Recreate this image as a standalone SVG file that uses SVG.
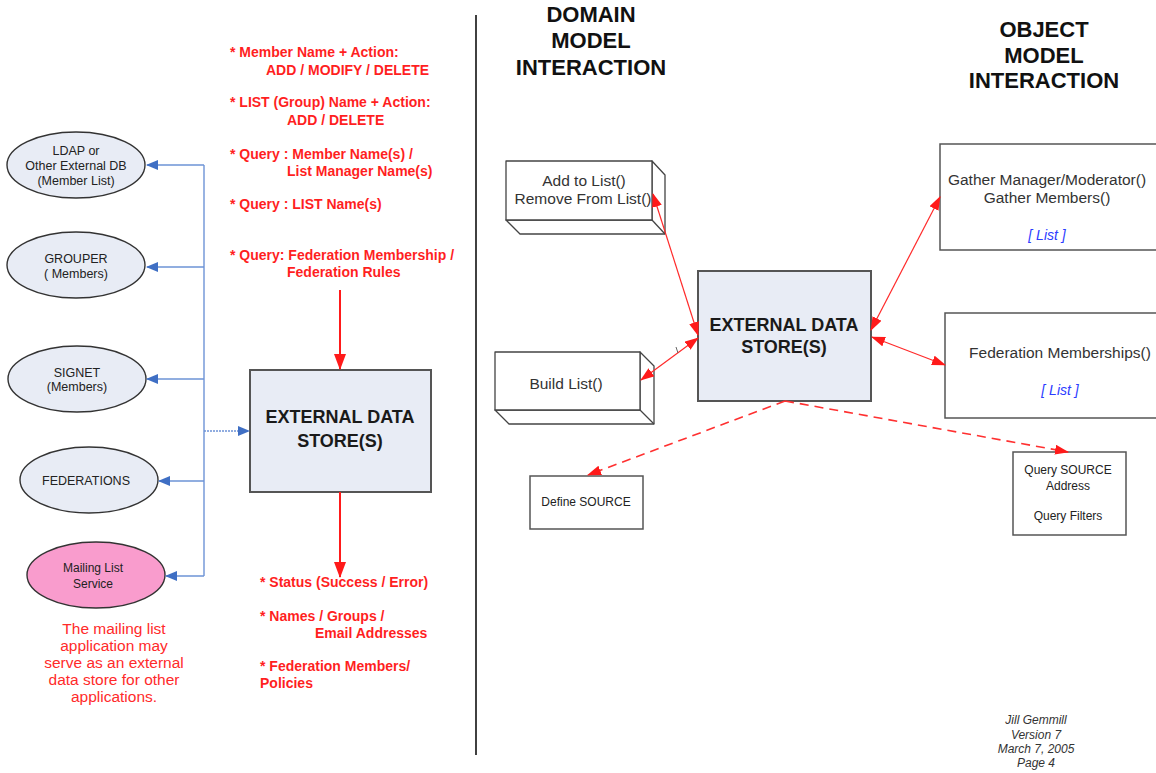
<svg xmlns="http://www.w3.org/2000/svg" width="1156" height="773" viewBox="0 0 1156 773">
  <style>
    .ell { fill: #e8ecf5; stroke: #333; stroke-width: 1.4; }
    .ell-pink { fill: #f99ccd; stroke: #333; stroke-width: 1.4; }
    .store { fill: #e8ecf5; stroke: #555; stroke-width: 2; }
    .box { fill: #fff; stroke: #555; stroke-width: 1.5; }
    .box3d { fill: #fff; stroke: #444; stroke-width: 1.3; stroke-linejoin: round; }
    .t { font-family: "Liberation Sans", Arial, sans-serif; fill: #222; }
    .node { font-size: 12.5px; text-anchor: middle; }
    .store-t { font-size: 18px; font-weight: bold; text-anchor: middle; fill: #1a1a1a; }
    .red-b { font-family: "Liberation Sans", Arial, sans-serif; font-size: 14px; font-weight: bold; fill: #ff1f1f; }
    .red-n { font-family: "Liberation Sans", Arial, sans-serif; font-size: 15.5px; fill: #ff2a2a; text-anchor: middle; }
    .head { font-family: "Liberation Sans", Arial, sans-serif; font-size: 22px; font-weight: bold; fill: #111; text-anchor: middle; }
    .op { font-size: 15.5px; text-anchor: middle; fill: #333; }
    .list { font-size: 14px; font-style: italic; text-anchor: middle; fill: #2b3cff; }
    .small { font-size: 12px; text-anchor: middle; fill: #222; }
    .foot { font-size: 12px; font-style: italic; text-anchor: middle; fill: #333; }
    .blue { stroke: #6d93d6; stroke-width: 1.4; fill: none; }
    .red-thick { stroke: #ff1a1a; stroke-width: 2; fill: none; }
    .red-thin { stroke: #ff2a2a; stroke-width: 1.2; fill: none; }
    .red-dash { stroke: #ff3030; stroke-width: 1.6; fill: none; stroke-dasharray: 9 6; }
  </style>
  <defs>
    <marker id="blueHead" markerUnits="userSpaceOnUse" markerWidth="12" markerHeight="10" refX="11" refY="5" orient="auto">
      <path d="M0,0 L12,5 L0,10 Z" fill="#3f6fc4"/>
    </marker>
    <marker id="redBig" markerUnits="userSpaceOnUse" markerWidth="16" markerHeight="12" refX="15" refY="6" orient="auto">
      <path d="M0,0 L16,6 L0,12 Z" fill="#ff1a1a"/>
    </marker>
    <marker id="redEnd" markerUnits="userSpaceOnUse" markerWidth="14" markerHeight="10" refX="13" refY="5" orient="auto">
      <path d="M0,0 L14,5 L0,10 Z" fill="#ff1a1a"/>
    </marker>
    <marker id="redStart" markerUnits="userSpaceOnUse" markerWidth="14" markerHeight="10" refX="1" refY="5" orient="auto">
      <path d="M14,0 L0,5 L14,10 Z" fill="#ff1a1a"/>
    </marker>
  </defs>

  <rect x="0" y="0" width="1156" height="773" fill="#fff"/>

  <!-- divider -->
  <line x1="476" y1="15" x2="476" y2="755" stroke="#111" stroke-width="1.6"/>

  <!-- headings -->
  <g id="heading-domain">
    <text class="head" x="591" y="22">DOMAIN</text>
    <text class="head" x="591" y="48">MODEL</text>
    <text class="head" x="591" y="75">INTERACTION</text>
  </g>
  <g id="heading-object">
    <text class="head" x="1044" y="37">OBJECT</text>
    <text class="head" x="1044" y="63">MODEL</text>
    <text class="head" x="1044" y="88">INTERACTION</text>
  </g>

  <!-- left column: sources -->
  <g id="node-ldap">
    <ellipse class="ell" cx="76" cy="165" rx="69" ry="33"/>
    <text class="t node" x="76" y="155">LDAP or</text>
    <text class="t node" x="76" y="170">Other External DB</text>
    <text class="t node" x="76" y="185">(Member List)</text>
  </g>
  <g id="node-grouper">
    <ellipse class="ell" cx="76" cy="265" rx="69" ry="33"/>
    <text class="t node" x="76" y="263">GROUPER</text>
    <text class="t node" x="76" y="278">( Members)</text>
  </g>
  <g id="node-signet">
    <ellipse class="ell" cx="77" cy="379" rx="69" ry="33"/>
    <text class="t node" x="77" y="377">SIGNET</text>
    <text class="t node" x="77" y="391">(Members)</text>
  </g>
  <g id="node-federations">
    <ellipse class="ell" cx="89" cy="480" rx="69" ry="33"/>
    <text class="t node" x="86" y="485">FEDERATIONS</text>
  </g>
  <g id="node-mailing">
    <ellipse class="ell-pink" cx="96" cy="575" rx="69" ry="33"/>
    <text class="t node" x="93" y="572" style="font-size:12px">Mailing List</text>
    <text class="t node" x="93" y="588" style="font-size:12px">Service</text>
  </g>
  <g id="note-mailing">
    <text class="red-n" x="114" y="634">The mailing list</text>
    <text class="red-n" x="114" y="651">application may</text>
    <text class="red-n" x="114" y="668">serve as an external</text>
    <text class="red-n" x="114" y="685">data store for other</text>
    <text class="red-n" x="114" y="702">applications.</text>
  </g>

  <!-- request list -->
  <g id="requests">
    <text class="red-b" x="230" y="57">* Member Name + Action:</text>
    <text class="red-b" x="266" y="75">ADD / MODIFY / DELETE</text>
    <text class="red-b" x="230" y="107">* LIST (Group) Name + Action:</text>
    <text class="red-b" x="287" y="125">ADD / DELETE</text>
    <text class="red-b" x="230" y="159">* Query : Member Name(s) /</text>
    <text class="red-b" x="287" y="176">List Manager Name(s)</text>
    <text class="red-b" x="230" y="209">* Query : LIST Name(s)</text>
    <text class="red-b" x="230" y="260">* Query: Federation Membership /</text>
    <text class="red-b" x="287" y="277">Federation Rules</text>
  </g>

  <g id="store-left">
    <rect class="store" x="250" y="370" width="181" height="122"/>
    <text class="t store-t" x="340" y="423">EXTERNAL DATA</text>
    <text class="t store-t" x="340" y="447">STORE(S)</text>
  </g>

  <!-- result list -->
  <g id="results">
    <text class="red-b" x="260" y="587">* Status (Success / Error)</text>
    <text class="red-b" x="260" y="621">* Names / Groups /</text>
    <text class="red-b" x="315" y="638">Email Addresses</text>
    <text class="red-b" x="260" y="671">* Federation Members/</text>
    <text class="red-b" x="260" y="688">Policies</text>
  </g>

  <!-- domain model -->
  <g id="node-add-remove">
    <path class="box3d" d="M652,161 L665,175 L665,234 L520,234 L506,220 L652,220 Z"/>
    <line class="box3d" x1="652" y1="220" x2="665" y2="234"/>
    <rect class="box3d" x="506" y="161" width="146" height="59"/>
    <text class="t op" x="584" y="186">Add to List()</text>
    <text class="t op" x="583" y="204">Remove From List()</text>
  </g>
  <g id="node-build">
    <path class="box3d" d="M640,352 L654,366 L654,424 L509,424 L495,410 L640,410 Z"/>
    <line class="box3d" x1="640" y1="410" x2="654" y2="424"/>
    <rect class="box3d" x="495" y="352" width="145" height="58"/>
    <text class="t op" x="566" y="389">Build List()</text>
  </g>

  <g id="store-right">
    <rect class="store" x="698" y="271" width="173" height="130"/>
    <text class="t store-t" x="784" y="331">EXTERNAL DATA</text>
    <text class="t store-t" x="784" y="353">STORE(S)</text>
  </g>

  <g id="node-define-source">
    <rect class="box" x="530" y="476" width="113" height="53"/>
    <text class="t small" x="586" y="506">Define SOURCE</text>
  </g>

  <!-- object model -->
  <g id="node-gather">
    <rect class="box" x="940" y="144" width="220" height="106"/>
    <text class="t op" x="1047" y="185">Gather Manager/Moderator()</text>
    <text class="t op" x="1047" y="203">Gather Members()</text>
    <text class="t list" x="1047" y="240">[ List ]</text>
  </g>
  <g id="node-federation-memberships">
    <rect class="box" x="945" y="313" width="215" height="105"/>
    <text class="t op" x="1060" y="358">Federation Memberships()</text>
    <text class="t list" x="1060" y="395">[ List ]</text>
  </g>
  <g id="node-query-source">
    <rect class="box" x="1013" y="452" width="113" height="83"/>
    <text class="t small" x="1068" y="474">Query SOURCE</text>
    <text class="t small" x="1068" y="490">Address</text>
    <text class="t small" x="1068" y="520">Query Filters</text>
  </g>

  <!-- connectors, drawn over the nodes so arrowheads stay visible -->
  <g id="connectors">
    <!-- blue bus to the sources -->
    <line class="blue" x1="204" y1="165" x2="204" y2="576"/>
    <line class="blue" x1="204" y1="165" x2="147" y2="165" marker-end="url(#blueHead)"/>
    <line class="blue" x1="204" y1="267" x2="147" y2="267" marker-end="url(#blueHead)"/>
    <line class="blue" x1="204" y1="379" x2="147" y2="379" marker-end="url(#blueHead)"/>
    <line class="blue" x1="204" y1="481" x2="159" y2="481" marker-end="url(#blueHead)"/>
    <line class="blue" x1="204" y1="576" x2="166" y2="576" marker-end="url(#blueHead)"/>
    <line class="blue" x1="204" y1="431" x2="249" y2="431" stroke-dasharray="2 1" marker-end="url(#blueHead)"/>

    <!-- requests in / results out -->
    <line class="red-thick" x1="340" y1="290" x2="340" y2="369" marker-end="url(#redBig)"/>
    <line class="red-thick" x1="340" y1="492" x2="340" y2="577" marker-end="url(#redBig)"/>

    <!-- domain model links -->
    <line class="red-thin" x1="653" y1="194" x2="698" y2="335" marker-start="url(#redStart)" marker-end="url(#redEnd)"/>
    <line class="red-thin" x1="641" y1="380" x2="698" y2="338" marker-start="url(#redStart)" marker-end="url(#redEnd)"/>
    <line x1="676" y1="347" x2="678" y2="353" stroke="#666" stroke-width="1"/>

    <!-- object model links -->
    <line class="red-thin" x1="871" y1="330" x2="940" y2="197" marker-start="url(#redStart)" marker-end="url(#redEnd)"/>
    <line class="red-thin" x1="872" y1="337" x2="945" y2="365" marker-start="url(#redStart)" marker-end="url(#redEnd)"/>

    <!-- source lookups -->
    <line class="red-dash" x1="785" y1="401" x2="588" y2="475" marker-end="url(#redEnd)"/>
    <line class="red-dash" x1="785" y1="401" x2="1068" y2="452" marker-end="url(#redEnd)"/>
  </g>

  <g id="footer">
    <text class="t foot" x="1036" y="724">Jill Gemmill</text>
    <text class="t foot" x="1036" y="739">Version 7</text>
    <text class="t foot" x="1036" y="753">March 7, 2005</text>
    <text class="t foot" x="1036" y="767">Page 4</text>
  </g>
</svg>
